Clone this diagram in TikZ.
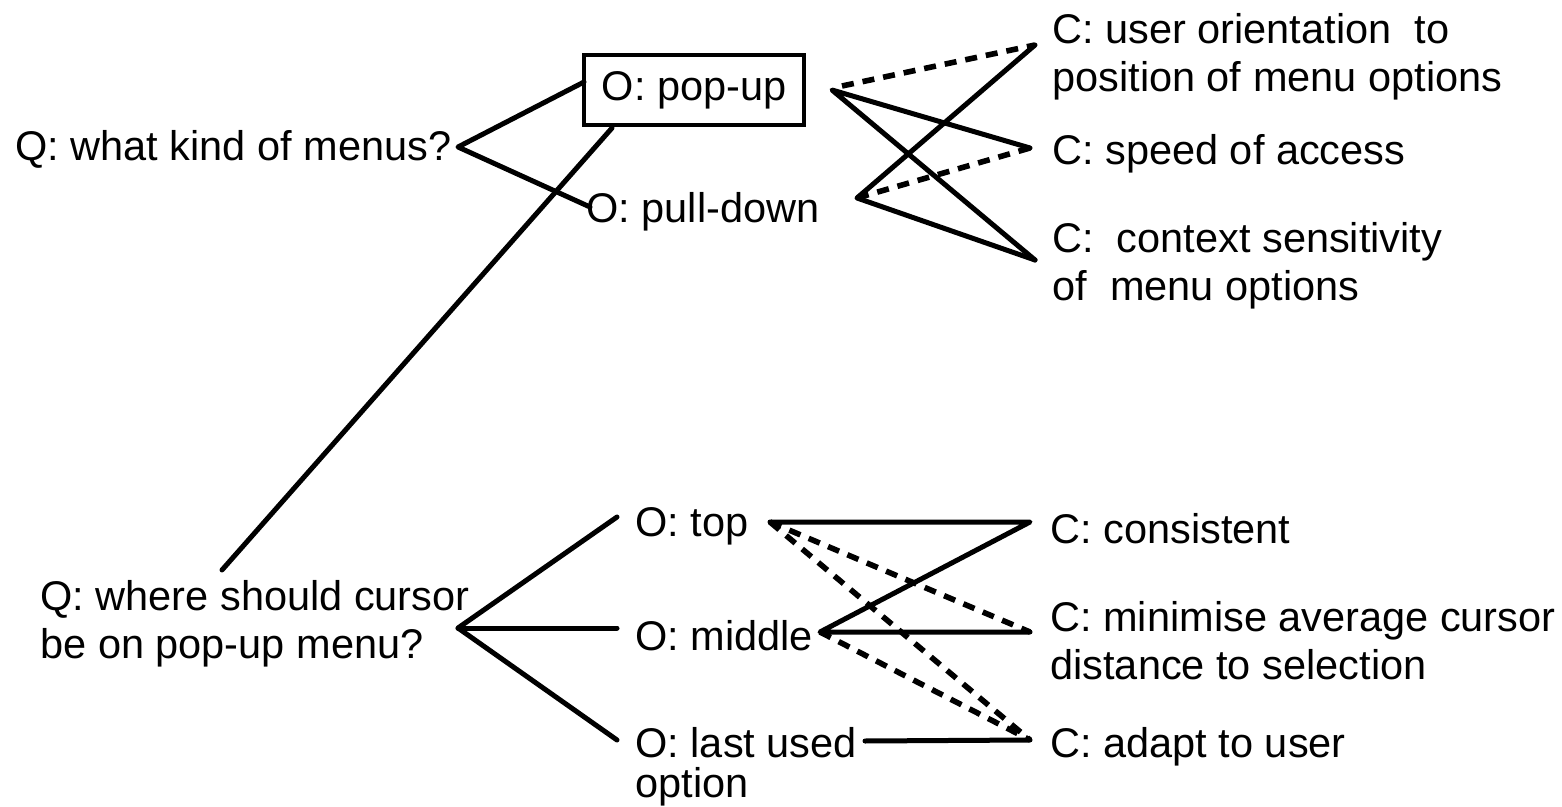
\documentclass[tikz,border=0pt]{standalone}
\usepackage{fontspec}
\setmainfont{Liberation Sans}
\begin{document}
\begin{tikzpicture}[x=0.5pt,y=-0.5pt,
  lbl/.style={inner sep=0pt,font=\fontsize{20.75}{24}\selectfont},
  mlbl/.style={lbl,align=left,anchor=north west},
  link/.style={line width=2.5pt,line cap=round,line join=round},
  dlink/.style={line width=2.8pt,dash pattern=on 6pt off 4.5pt}]
\useasboundingbox (0,0) rectangle (1562,807);

% labels
\node[lbl,anchor=base west] (q1) at (15,161) {Q: what kind of menus?};
\node[lbl,draw,line width=2.2pt,minimum width=110pt,minimum height=35pt] (pop) at (694,90) {O: pop-up};
\node[lbl,anchor=base west] (pd) at (586,223) {O: pull-down};
\node[mlbl] (uo) at (1052,13) {C: user orientation~ to\\position of menu options};
\node[lbl,anchor=base west] (sp) at (1052,165) {C: speed of access};
\node[mlbl] (cs) at (1052,222) {C:~ context sensitivity\\of~ menu options};

\node[mlbl] (q2) at (40,580) {Q: where should cursor\\be on pop-up menu?};
\node[lbl,anchor=base west] (top) at (635,536) {O: top};
\node[lbl,anchor=base west] (mid) at (635,650) {O: middle};
\node[mlbl] (lu) at (635,727) {O: last used\\[-4pt]option};
\node[lbl,anchor=base west] (con) at (1050,543) {C: consistent};
\node[mlbl] (min) at (1050,601) {C: minimise average cursor\\distance to selection};
\node[lbl,anchor=base west] (ad) at (1050,757) {C: adapt to user};

% connection points
\coordinate (q1a) at (458,147);
\coordinate (popL) at (584,82);
\coordinate (pdL) at (590,207);
\coordinate (popB) at (612,128);
\coordinate (q2t) at (222,570);
\coordinate (popR) at (832,90);
\coordinate (popRd) at (842,86);
\coordinate (pdR) at (857,198);
\coordinate (uoL) at (1035,45);
\coordinate (spL) at (1030,148);
\coordinate (csL) at (1035,260);
\coordinate (q2a) at (458,628);
\coordinate (topL) at (617,517);
\coordinate (midL) at (617,628);
\coordinate (luL) at (617,740);
\coordinate (topR) at (770,522);
\coordinate (midR) at (820,632);
\coordinate (luR) at (865,741);
\coordinate (conL) at (1030,522);
\coordinate (minL) at (1030,632);
\coordinate (adL) at (1030,740);

% top tree
\draw[link] (popL) -- (q1a) -- (pdL);
\draw[link] (popB) -- (q2t);
\draw[dlink] (popRd) -- (uoL);
\draw[link] (spL) -- (popR) -- (csL);
\draw[link] (uoL) -- (pdR) -- (csL);
\draw[dlink] (spL) -- (pdR);

% bottom tree
\draw[link] (topL) -- (q2a) -- (luL);
\draw[link] (q2a) -- (midL);
\draw[link] (topR) -- (conL) -- (midR) -- (minL);
\draw[dlink] (topR) -- (minL);
\draw[dlink] (topR) -- (adL);
\draw[dlink] (midR) -- (adL);
\draw[link] (luR) -- (adL);
\end{tikzpicture}
\end{document}
